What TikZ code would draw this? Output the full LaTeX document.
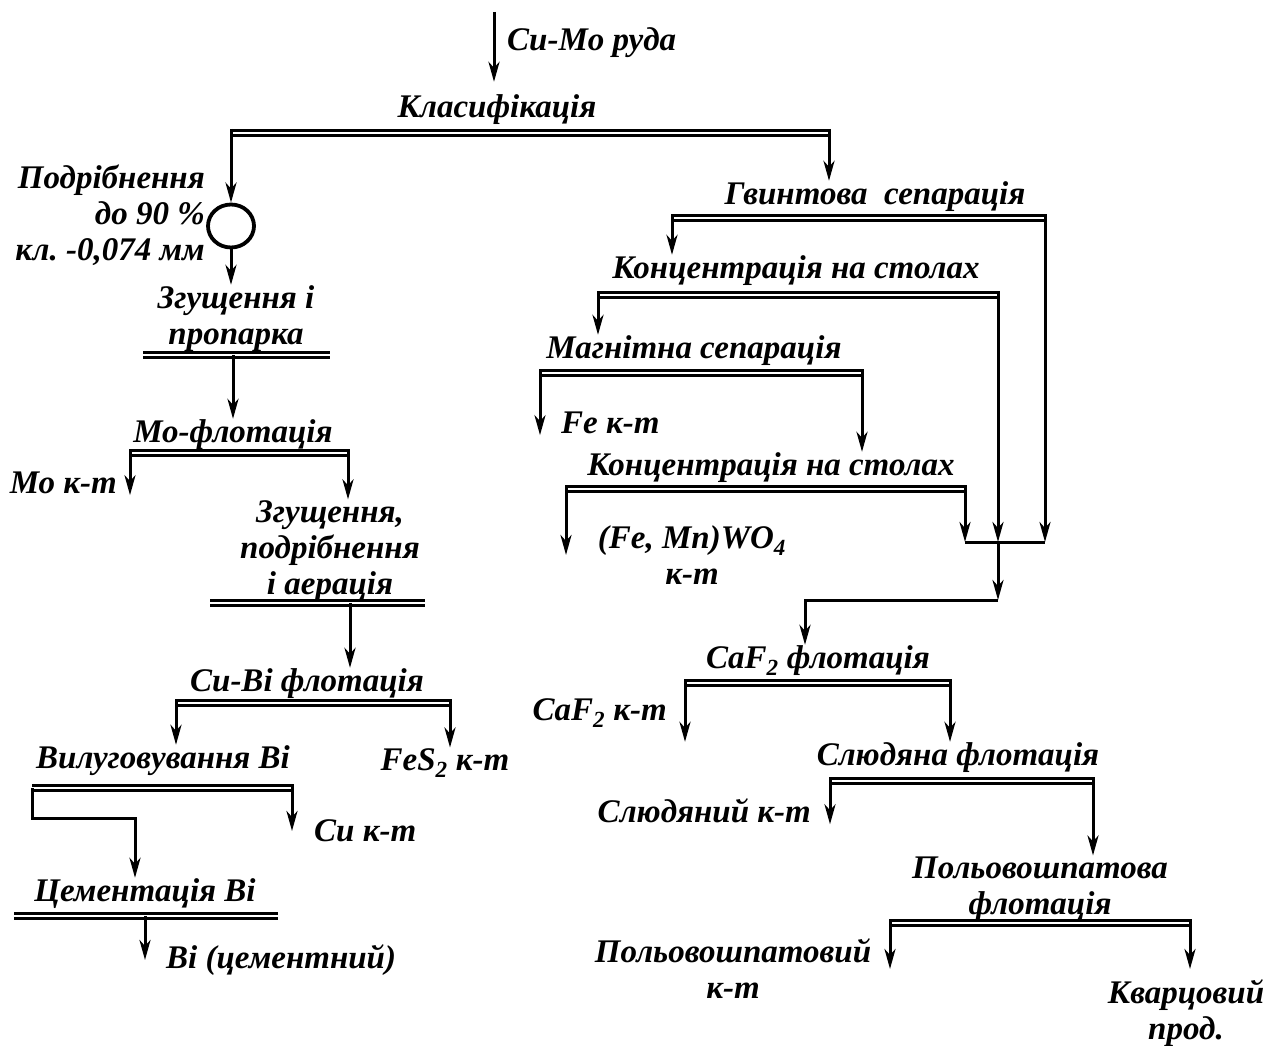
\documentclass[tikz,border=0pt]{standalone}
\usepackage{fontspec}
\setmainfont{Liberation Serif}
\usepackage{tikz}
\usetikzlibrary{arrows.meta,calc,shapes.geometric}
\frenchspacing

\begin{document}
\begin{tikzpicture}[
  x=1pt, y=-1pt,
  proc/.style={font=\fontsize{33}{36}\selectfont\bfseries\itshape, align=center, inner sep=1pt, yshift=-3pt},
  prod/.style={proc},
  arrow/.style={-{Stealth[length=20pt, width=11pt, inset=6pt]}, line width=3pt},
  drop/.style={arrow, shorten <=-4pt},
  link/.style={line width=3pt},
  bar/.style={double, double distance=2pt, line width=2.8pt},
  mill/.style={ellipse, draw, line width=3.8pt, minimum width=46pt, minimum height=43pt, inner sep=0pt}
]
\useasboundingbox (0,0) rectangle (1264,1046);

% left branch
\coordinate (feed) at (494,12);
\node[prod, anchor=west] (ore) at (506,40) {Cu-Mo руда};
\node[proc] (klas) at (497,107) {Класифікація};
\coordinate (b1l) at (231,133); \coordinate (b1r) at (829,133);
\node[mill] (grind) at (231,226) {};
\node[proc, align=right, anchor=east] (grindnote) at (206,212) {Подрібнення\\до 90 \%\\кл. -0,074 мм};
\node[proc] (zgpr) at (236,316) {Згущення і\\пропарка};
\coordinate (b2l) at (143,355); \coordinate (b2r) at (330,355);
\node[proc] (mof) at (233,432) {Мо-флотація};
\coordinate (b3l) at (130,453); \coordinate (b3r) at (348,453);
\node[prod, anchor=east] (mok) at (118,480) {Мо к-т};
\node[proc] (zpa) at (330,548) {Згущення,\\подрібнення\\і аерація};
\coordinate (b4l) at (210,603); \coordinate (b4r) at (425,603);
\coordinate (b4m) at (350,603);
\node[proc] (cubi) at (307,681) {Cu-Bi флотація};
\coordinate (b5l) at (176,703); \coordinate (b5r) at (450,703);
\node[proc] (vil) at (163,758) {Вилуговування Bi};
\node[prod] (fes) at (445,760) {FeS\textsubscript{2} к-т};
\coordinate (b6l) at (32,788); \coordinate (b6r) at (292,788);
\coordinate (b6k) at (32,818);
\node[prod, anchor=west] (cuk) at (313,828) {Cu к-т};
\node[proc] (cem) at (145,891) {Цементація Bi};
\coordinate (b7l) at (14,916); \coordinate (b7r) at (278,916);
\coordinate (b7m) at (145,916);
\node[prod, anchor=west] (bic) at (165,957) {Bi (цементний)};

% right branch
\node[proc] (gvint) at (875,194) {Гвинтова\ \ сепарація};
\coordinate (b8l) at (672,218); \coordinate (b8r) at (1045,218);
\node[proc] (kon1) at (796,268) {Концентрація на столах};
\coordinate (b9l) at (598,295); \coordinate (b9r) at (998,295);
\node[proc] (mag) at (694,348) {Магнітна сепарація};
\coordinate (b10l) at (540,373); \coordinate (b10r) at (862,373);
\node[prod, anchor=west] (fek) at (560,420) {Fe к-т};
\node[proc] (kon2) at (771,465) {Концентрація на столах};
\coordinate (b11l) at (566,489); \coordinate (b11r) at (965,489);
\node[prod] (wo) at (692,552) {(Fe, Mn)WO\textsubscript{4}\\к-т};
\coordinate (c1) at (965,542); \coordinate (c2) at (998,542);
\coordinate (c3) at (1045,542); \coordinate (c4) at (998,600);
\node[proc] (caf) at (818,658) {CaF\textsubscript{2} флотація};
\coordinate (b12l) at (685,683); \coordinate (b12r) at (950,683);
\node[prod, anchor=east] (cafk) at (668,710) {CaF\textsubscript{2} к-т};
\node[proc] (slud) at (958,755) {Слюдяна флотація};
\coordinate (b13l) at (830,781); \coordinate (b13r) at (1093,781);
\node[prod, anchor=east] (sludk) at (812,808) {Слюдяний к-т};
\node[proc] (pol) at (1040,886) {Польовошпатова\\флотація};
\coordinate (b14l) at (890,923); \coordinate (b14r) at (1190,923);
\node[prod] (polk) at (733,966) {Польовошпатовий\\к-т};
\node[prod] (kvar) at (1186,1010) {Кварцовий\\прод.};

% bars
\draw[bar] (b1l) -- (b1r);
\draw[bar] (b2l) -- (b2r);
\draw[bar] (b3l) -- (b3r);
\draw[bar] (b4l) -- (b4r);
\draw[bar] (b5l) -- (b5r);
\draw[bar] (b6l) -- (b6r);
\draw[bar] (b7l) -- (b7r);
\draw[bar] (b8l) -- (b8r);
\draw[bar] (b9l) -- (b9r);
\draw[bar] (b10l) -- (b10r);
\draw[bar] (b11l) -- (b11r);
\draw[bar] (b12l) -- (b12r);
\draw[bar] (b13l) -- (b13r);
\draw[bar] (b14l) -- (b14r);

% flows
\draw[arrow, shorten >=12pt] (feed) -- (feed |- klas.north);
\draw[drop] (b1l) -- (grind);
\draw[drop] (b1r) -- (b1r |- gvint.north);
\draw[arrow] (grind) -- (grind.south |- zgpr.north);
\draw[arrow] (mof.north |- b2l) -- (mof.north);
\draw[drop] (b3l) -- (b3l |- mok.south);
\draw[drop] (b3r) -- (b3r |- zpa.north);
\draw[arrow] (b4m) -- (b4m |- cubi.north);
\draw[drop] (b5l) -- (b5l |- vil.north);
\draw[drop] (b5r) -- (b5r |- fes.north);
\draw[drop] (b6r) -- (b6r |- cuk.center);
\draw[arrow] (b6l) -- (b6k) -| ([xshift=-10pt]cem.north);
\draw[arrow] (b7m) -- (b7m |- bic.center);

\draw[drop] (b8l) -- (b8l |- kon1.north);
\draw[drop] (b9l) -- (b9l |- mag.north);
\draw[drop] (b10l) -- (b10l |- fek.south);
\draw[drop] (b10r) -- (b10r |- kon2.north);
\draw[drop] (b11l) -- (b11l |- wo.center);
\draw[drop] (b8r) -- (c3);
\draw[drop] (b9r) -- (c2);
\draw[drop] (b11r) -- (c1);
\draw[link] (c1) -- (c3);
\draw[arrow] (c2) -- (c4);
\draw[arrow] (c4) -| ([xshift=-13pt]caf.north);
\draw[drop] (b12l) -- (b12l |- slud.north);
\draw[drop] (b12r) -- (b12r |- slud.north);
\draw[drop] (b13l) -- (b13l |- sludk.south);
\draw[drop] (b13r) -- (b13r |- pol.north);
\draw[drop] (b14l) -- (b14l |- polk.center);
\draw[drop] (b14r) -- (b14r |- polk.center);

\end{tikzpicture}
\end{document}
